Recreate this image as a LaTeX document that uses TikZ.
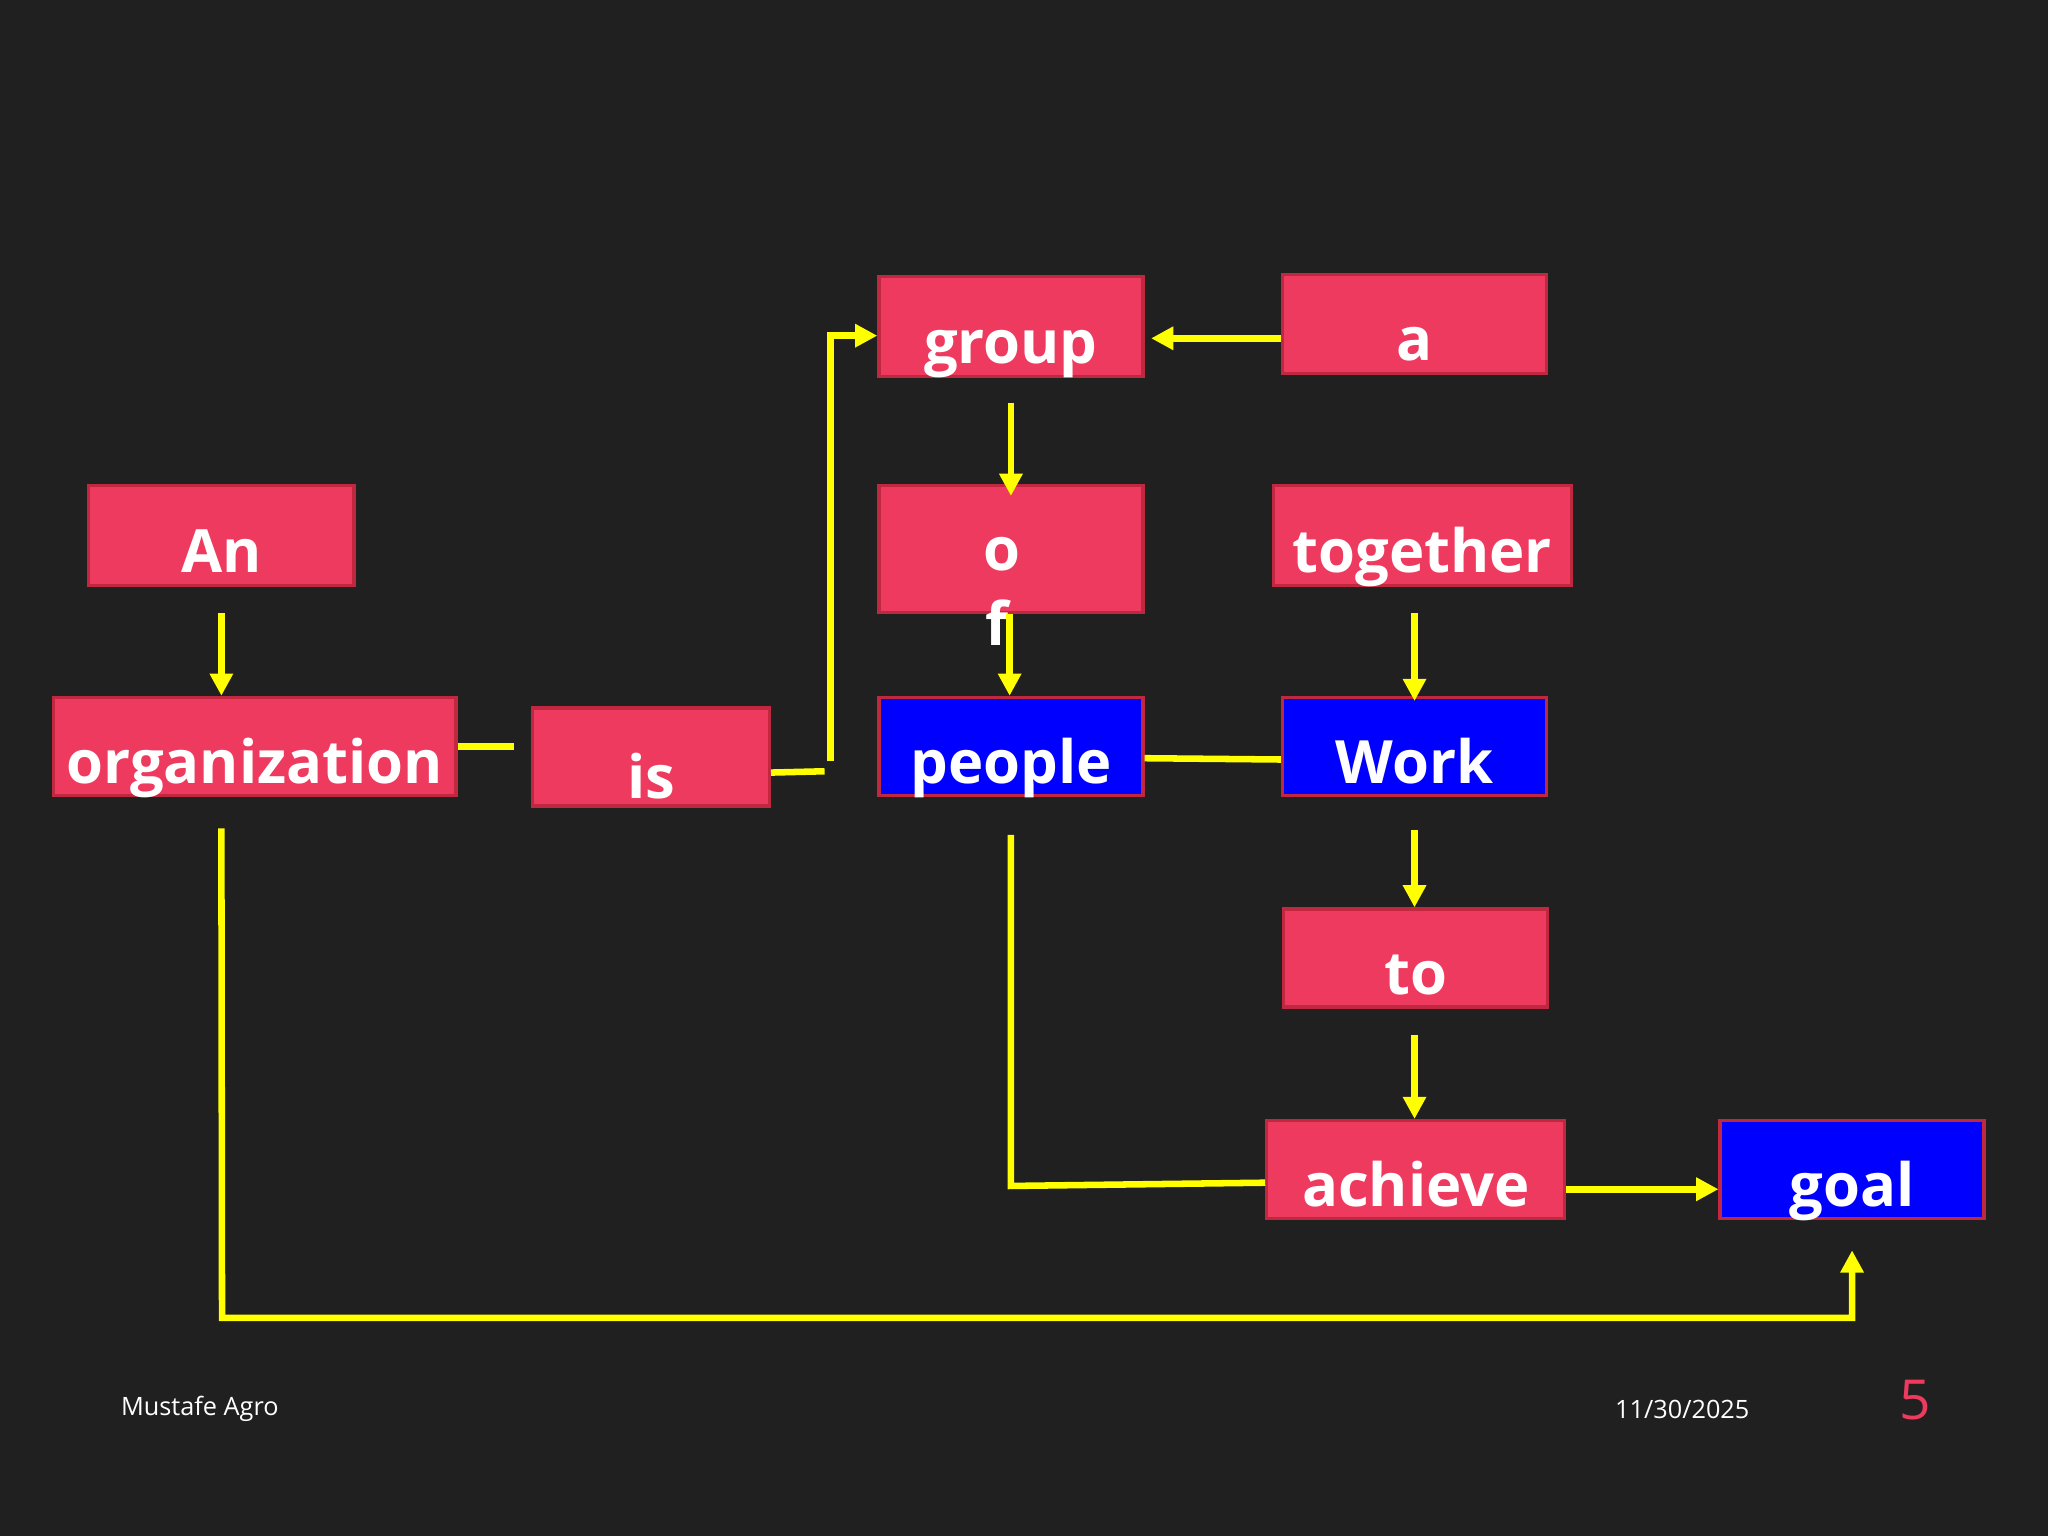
\documentclass[tikz,border=0pt]{standalone}
\usepackage{fontspec}
\setmainfont{Open Sans}
\usetikzlibrary{arrows.meta,calc}
\definecolor{bgc}{HTML}{202020}
\definecolor{pinkc}{HTML}{EE3A5E}
\definecolor{edgec}{HTML}{C0283F}
\definecolor{bluec}{HTML}{0000FF}
\definecolor{yel}{HTML}{FFFF00}
\tikzset{
  box/.style={draw=edgec,line width=0.25mm,fill=pinkc,inner sep=0pt,text=white,text height=5.6mm,text depth=0pt,font=\fontsize{13}{15}\selectfont\bfseries},
  bbox/.style={box,fill=bluec},
  conn/.style={draw=yel,line width=0.5mm},
  arr/.style={conn,-{Triangle[length=1.7mm,width=1.7mm]}}
}
\begin{document}
\begin{tikzpicture}[x=0.01cm,y=-0.01cm]
\fill[bgc] (0,0) rectangle (1568,1176);
\useasboundingbox (0,0) rectangle (1568,1176);
\node[box,minimum width=2.03cm,minimum height=0.76cm] (an) at (169.5,410) {An};
\node[box,minimum width=3.08cm,minimum height=0.75cm] (org) at (195,571.5) {organization};
\node[box,minimum width=1.81cm,minimum height=0.75cm,text height=6.4mm] (is) at (498.5,579.5) {is};
\node[box,minimum width=2.02cm,minimum height=0.76cm] (group) at (774,250) {group};
\node[box,minimum width=2.02cm,minimum height=0.97cm] (of) at (774,420.5) {};
\node[text=white,font=\fontsize{13}{15}\selectfont\bfseries] (o) at (767,424) {o};
\node[text=white,font=\fontsize{13}{15}\selectfont\bfseries] (f) at (763,477) {f};
\node[bbox,minimum width=2.02cm,minimum height=0.75cm] (people) at (774,571.5) {people};
\node[box,minimum width=2.02cm,minimum height=0.76cm] (a) at (1083,248) {a};
\node[box,minimum width=2.28cm,minimum height=0.76cm] (together) at (1089,410) {together};
\node[bbox,minimum width=2.02cm,minimum height=0.75cm] (work) at (1083,571.5) {Work};
\node[box,minimum width=2.02cm,minimum height=0.75cm] (to) at (1084,733.5) {to};
\node[box,minimum width=2.28cm,minimum height=0.75cm] (achieve) at (1084,895.5) {achieve};
\node[bbox,minimum width=2.02cm,minimum height=0.75cm] (goal) at (1418,895.5) {goal};
% connectors
\draw[arr] ([yshift=-2mm]an.south) -- (an.south |- org.north);
\draw[conn] (org.east) -- ([xshift=4.3mm]org.east);
\draw[conn] ([yshift=-1.2mm]is.east) -- ++(41,-1);
\coordinate (c1) at (636,583);
\draw[arr] (c1) |- ([yshift=-0.7mm]group.west);
\draw[arr] ([yshift=-1.1mm]a.west) -- ([xshift=0.5mm,yshift=-1.1mm]a.west -| group.east);
\draw[arr] ([yshift=-1.9mm]group.south) -- ([yshift=-0.9mm]of.north);
\draw[arr] ([xshift=-0.1mm]of.south) -- ([xshift=-0.1mm]people.north);
\draw[conn] ([yshift=-0.9mm]people.east) -- ([yshift=-1.0mm]work.west);
\draw[arr] ([yshift=-2mm]together.south -| work.north) -- ([yshift=-0.4mm]work.north);
\draw[arr] ([yshift=-2.5mm]work.south) -- (to.north -| work.south);
\draw[arr] ([yshift=-2mm]to.south -| work.south) -- (achieve.north -| work.south);
\draw[conn] ([yshift=-2.9mm]people.south) -- (774,908) -- ([yshift=-1.0mm]achieve.west);
\draw[arr] ([yshift=-1.5mm]achieve.east) -- ([yshift=-1.5mm]goal.west);
\draw[arr] ([yshift=-2.4mm]org.south -| an.south) -- (170,1009) -- (1418,1009) -- ([yshift=-2.3mm]goal.south);
% footer
\node[text=white,font=\fontsize{5.5}{7}\selectfont,anchor=west,inner sep=0pt] (ft1) at (92,1079) {Mustafe Agro};
\node[text=white,font=\fontsize{5.5}{7}\selectfont] (ft2) at (1288,1079) {11/30/2025};
\node[text=pinkc,font=\fontsize{12}{14}\selectfont] (ft3) at (1466,1072) {5};
\end{tikzpicture}
\end{document}
